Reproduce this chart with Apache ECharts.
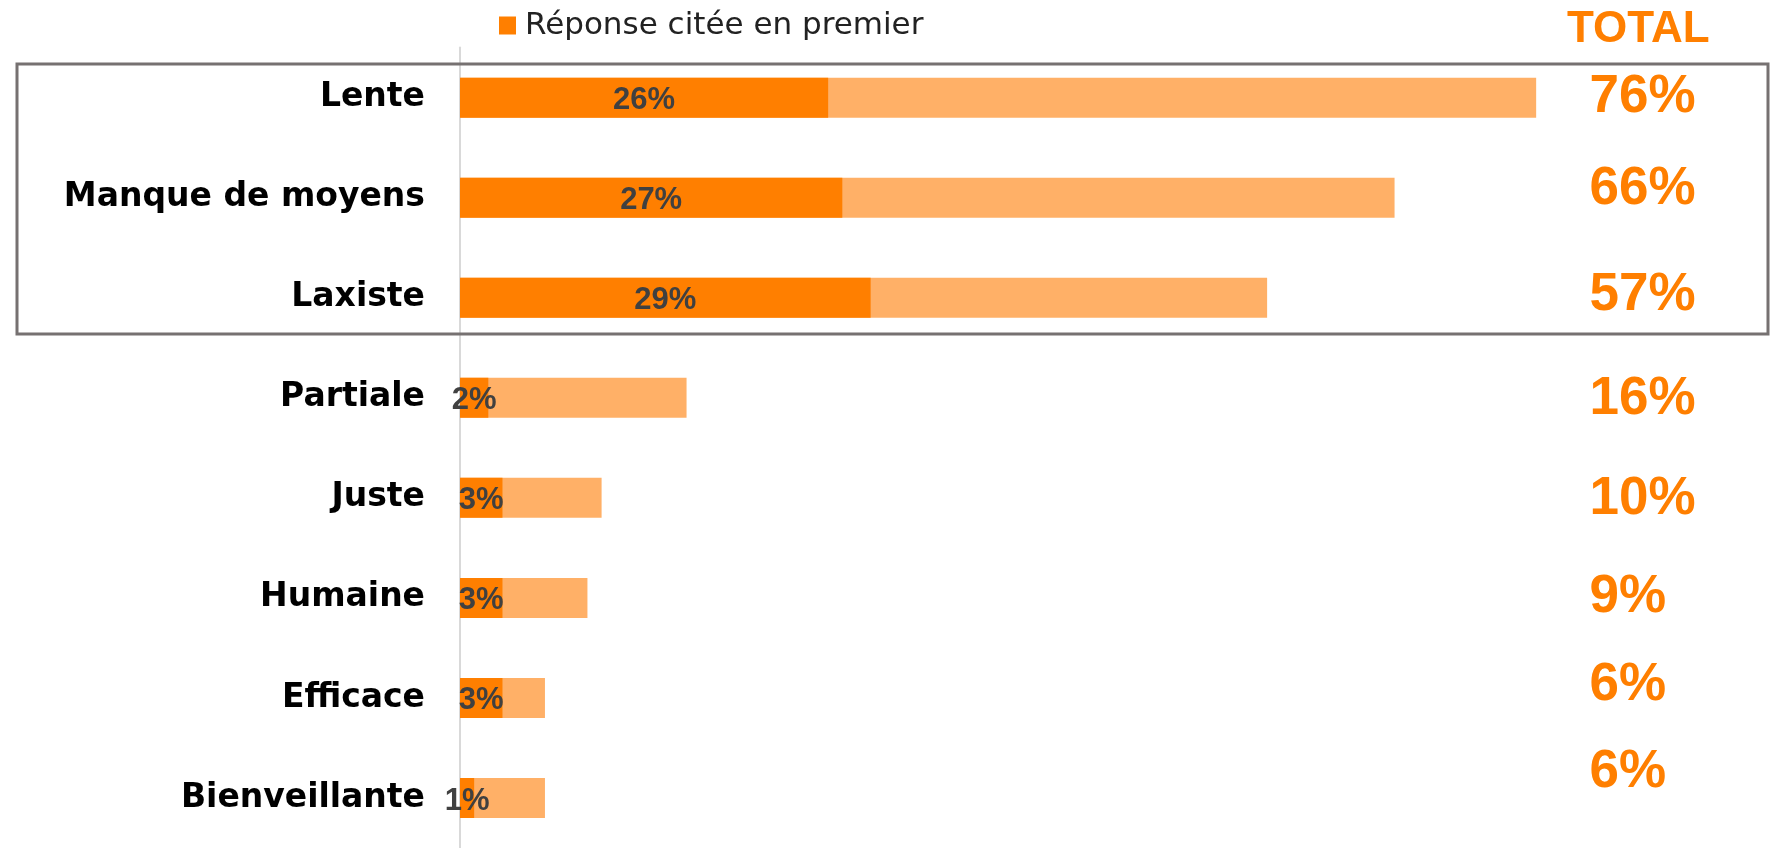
<!DOCTYPE html>
<html>
<head>
<meta charset="utf-8">
<script src="https://cdn.jsdelivr.net/npm/echarts@6/dist/echarts.min.js"></script>
<style>
html,body{margin:0;padding:0;background:#fff;}
#chart{width:1770px;height:848px;}
</style>
</head>
<body>
<div id="chart"></div>
<script>
// ---- data ----
const categories = ['Lente', 'Manque de moyens', 'Laxiste', 'Partiale', 'Juste', 'Humaine', 'Efficace', 'Bienveillante'];
const firstCited = [26, 27, 29, 2, 3, 3, 3, 1];
const totals = [76, 66, 57, 16, 10, 9, 6, 6];
const legendLabel = 'Réponse citée en premier';
const totalTitle = 'TOTAL';

// ---- styling ----
const DARK = '#FF7F00';
const LIGHT = '#FFB067';
const totalShiftUp = [0, 8, 2, -1.5, -2, 0, 13, 26]; // vertical nudges of total labels (px)

const rich = {};
totalShiftUp.forEach((s, i) => {
  const pad = Math.abs(s) * 2;
  rich['t' + i] = {
    fontFamily: 'Liberation Sans',
    fontWeight: 'bold',
    fontSize: 53,
    color: DARK,
    padding: s >= 0 ? [0, 0, pad, 0] : [pad, 0, 0, 0]
  };
});

const chart = echarts.init(document.getElementById('chart'));
chart.setOption({
  animation: false,
  backgroundColor: '#ffffff',
  title: {
    text: totalTitle,
    left: 1567,
    top: 8,
    padding: 0,
    textStyle: { fontFamily: 'Liberation Sans', fontWeight: 'bold', fontSize: 44, color: DARK }
  },
  legend: {
    data: [legendLabel],
    left: 499,
    top: 10,
    padding: 0,
    itemWidth: 17,
    itemHeight: 18,
    icon: 'rect',
    textStyle: { fontFamily: 'DejaVu Sans', fontSize: 31, color: '#222222', padding: [0, 0, 0, 4] }
  },
  grid: { left: 460, right: 1770 - 460 - 78 * 14.16, top: 47.6, bottom: -6.4, containLabel: false },
  xAxis: { type: 'value', min: 0, max: 78, show: false },
  yAxis: [
    {
      type: 'category',
      data: categories,
      inverse: true,
      axisTick: { show: false },
      axisLine: { show: true, lineStyle: { color: '#D9D9D9', width: 2 } },
      axisLabel: { margin: 35, fontFamily: 'DejaVu Sans', fontWeight: 'bold', fontSize: 33, color: '#000000' }
    },
    {
      type: 'category',
      data: totals.map(v => v + '%'),
      inverse: true,
      position: 'right',
      axisTick: { show: false },
      axisLine: { show: false },
      axisLabel: {
        margin: 25,
        align: 'left',
        formatter: (value, index) => '{t' + index + '|' + value + '}',
        rich: rich
      }
    }
  ],
  series: [
    {
      name: 'Total',
      type: 'bar',
      data: totals,
      barWidth: 40,
      barGap: '-100%',
      itemStyle: { color: LIGHT },
      silent: true
    },
    {
      name: legendLabel,
      type: 'bar',
      data: firstCited,
      barWidth: 40,
      itemStyle: { color: DARK },
      label: {
        show: true,
        position: 'inside',
        offset: [0, 3],
        formatter: '{c}%',
        fontFamily: 'Liberation Sans',
        fontWeight: 'bold',
        fontSize: 31,
        color: '#404040'
      }
    }
  ],
  graphic: [
    {
      type: 'rect',
      shape: { x: 17, y: 64, width: 1751, height: 270 },
      style: { fill: 'none', stroke: '#767171', lineWidth: 3 },
      z: 10
    }
  ]
});
</script>
</body>
</html>
